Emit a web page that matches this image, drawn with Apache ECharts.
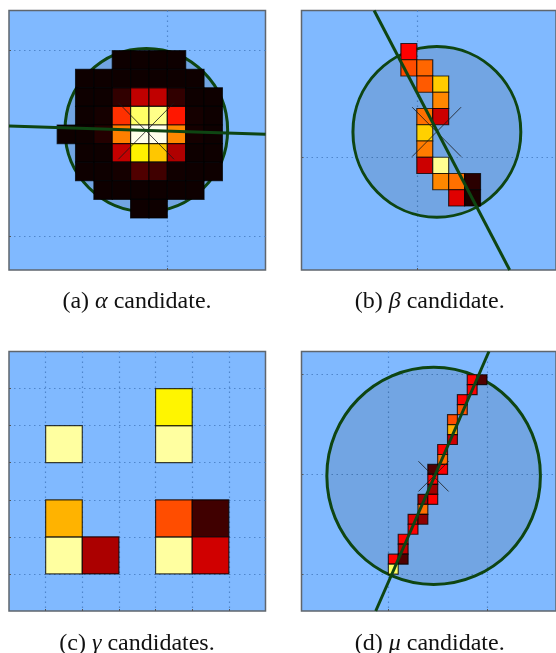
<!DOCTYPE html>
<html><head><meta charset="utf-8">
<style>html,body{margin:0;padding:0;background:#fff;overflow:hidden}#c{width:556px;height:653px;filter:blur(0.6px)}</style>
<script src="https://cdn.jsdelivr.net/npm/echarts@6/dist/echarts.min.js"></script>
</head><body><div id="c"></div>
<script>
// cell lists: [x, y, intensity] (lower-left corner in axis units; intensity on the "hot" colour scale)
const alphaRows = [
 [19, 7, [.02,.02,.02,.02]],
 [18, 5, [.02,.02,.02,.02,.02,.02,.02]],
 [17, 5, [.02,.02,.07,.275,.275,.07,.02,.02]],
 [16, 5, [.02,.03,.437,.848,.881,.4,.03,.02]],
 [15, 4, [.02,.02,.05,.555,.98,.98,.567,.03,.02]],
 [14, 5, [.02,.02,.28,.725,.663,.252,.02,.02]],
 [13, 5, [.02,.02,.03,.115,.092,.025,.02,.02]],
 [12, 6, [.02,.02,.02,.02,.02,.02]],
 [11, 8, [.02,.02]]
];
const alphaCells = alphaRows.flatMap(([y, x0, vals]) => vals.map((v, i) => [x0 + i, y, v]));
const betaCells = [
 [9,16,.365],[9,15,.48],[10,15,.517],[10,14,.5],[11,14,.67],[11,13,.567],
 [10,12,.533],[11,12,.292],[10,11,.676],[10,10,.55],[10,9,.292],[11,9,.89],
 [11,8,.567],[12,8,.533],[13,8,.06],[12,7,.32],[13,7,.037]
];
const gammaCells = [
 [1,1,.905],[1,2,.632],[2,1,.245],[1,4,.905],[4,4,.905],[4,5,.731],
 [4,1,.905],[4,2,.48],[5,2,.092],[5,1,.298]
];
const muCells = [
 [18,29,.365],[19,29,.115],[18,28,.365],[17,27,.365],[17,26,.49],[16,25,.48],[16,24,.632],[16,23,.298],
 [15,22,.365],[15,21,.533],[14,20,.115],[15,20,.365],[14,19,.365],[14,18,.229],[13,17,.229],[14,17,.365],
 [13,16,.533],[12,15,.32],[13,15,.206],[12,14,.365],[11,13,.365],[11,12,.275],[10,11,.365],[11,11,.115],[10,10,.842]
];
// fitted ellipses: [centre x, centre y, radius x, radius y]
const alphaEllipse = [8.856, 15.73, 4.43, 4.39];
const betaEllipse  = [11.26, 11.56, 5.27, 5.25];
const muEllipse    = [14.59, 19.85, 10.83, 10.89];
// long axes: two end points
const alphaAxis = [[1.373,15.95],[15.35,15.5]];
const betaAxis  = [[7.32,19.03],[15.83,3.06]];
const muAxis    = [[8.72,6.3],[20.2,32.33]];
// crosses: two segments
const alphaCross = [[[7.33,17.2],[10.365,14.155]],[[7.33,14.155],[10.365,17.2]]];
const betaCross  = [[[9.707,13.08],[12.78,10.04]],[[9.707,10.04],[12.78,13.08]]];
const muCross    = [[[13.05,21.32],[16.11,18.29]],[[13.05,18.29],[16.11,21.32]]];
// axis ranges and tick positions
const xRanges = [[1.373,15.35],[2.76,18.74],[0,7],[1.19,27.0]];
const yRanges = [[8.2,22.16],[3.06,19.03],[0,7],[6.3,32.33]];
const xTicks = [[10],[10],[1,2,3,4,5,6],[10,20]];
const yTicks = [[10,20],[10],[1,2,3,4,5,6],[10,20,30]];
// captions
const captionLetters = ['(a) ','(b) ','(c) ','(d) '];
const captionGreek = ['α','β','γ','μ'];
const captionTails = [' candidate.',' candidate.',' candidates.',' candidate.'];

const boxes = [
 {left:9, top:10.5, width:256.5, height:259.5},
 {left:301.5, top:10.5, width:256.5, height:259.5},
 {left:9, top:351.5, width:256.5, height:259.5},
 {left:301.5, top:351.5, width:256.5, height:259.5}
];
const captionPos = [[137,290],[429.7,290],[137,632],[429.7,632]];

const clamp = t => Math.max(0, Math.min(1, t));
function hot(v){
  const r = clamp(v/.365), g = clamp((v-.365)/.381), b = clamp((v-.746)/.254);
  return `rgb(${Math.round(r*255)},${Math.round(g*255)},${Math.round(b*255)})`;
}
const GREEN = '#0e4512';
function cellSeries(cells, i){
  return {type:'custom', xAxisIndex:i, yAxisIndex:i, z:4, silent:true, clip:true, data:cells,
    renderItem:(p,api)=>{
      const x=api.value(0), y=api.value(1);
      const a=api.coord([x,y+1]), b=api.coord([x+1,y]);
      return {type:'rect', shape:{x:a[0],y:a[1],width:b[0]-a[0],height:b[1]-a[1]},
        style:{fill:hot(api.value(2)), stroke:'rgba(0,0,0,0.75)', lineWidth:1.2}};
    }};
}
function ellipseSeries(e, i){
  return {type:'custom', xAxisIndex:i, yAxisIndex:i, z:3, silent:true, clip:true, data:[e],
    renderItem:(p,api)=>{
      const c=api.coord([api.value(0),api.value(1)]);
      const s=api.size([api.value(2),api.value(3)]);
      return {type:'ellipse', shape:{cx:c[0],cy:c[1],rx:s[0],ry:s[1]},
        style:{fill:'rgba(0,10,0,0.11)', stroke:GREEN, lineWidth:3}};
    }};
}
function lineSeries(pts, i, color, width, z){
  return {type:'line', xAxisIndex:i, yAxisIndex:i, z, silent:true, clip:true, data:pts,
    showSymbol:false, symbol:'none', animation:false, lineStyle:{color, width}};
}
const series = [];
[alphaCells,betaCells,gammaCells,muCells].forEach((cells,i)=>{
  const ell=[alphaEllipse,betaEllipse,null,muEllipse][i];
  const ax=[alphaAxis,betaAxis,null,muAxis][i];
  const cr=[alphaCross,betaCross,null,muCross][i];
  if(ell) series.push(ellipseSeries(ell,i));
  series.push(cellSeries(cells,i));
  if(cr) cr.forEach(seg=>series.push(lineSeries(seg,i,'rgba(25,25,25,0.8)',1,5)));
  if(ax) series.push(lineSeries(ax,i,GREEN,3,6));
});
function axis(range,ticks,gi,pos){
  return {type:'value', gridIndex:gi, min:range[0], max:range[1], position:pos, scale:true,
    axisLabel:{show:false},
    axisLine:{show:false},
    axisTick:{show:true, inside:true, length:2, customValues:ticks, lineStyle:{color:'#555',width:1}},
    splitLine:{show:true, lineStyle:{color:'#4f86cc', width:1.2, type:[1.5,3.5]}}};
}
const option = {
  animation:false,
  backgroundColor:'#fff',
  title: captionLetters.map((l,i)=>({
    text:`${l}{i|${captionGreek[i]}}${captionTails[i]}`,
    left:captionPos[i][0], top:captionPos[i][1], textAlign:'center',
    padding:0,
    textStyle:{fontFamily:'Liberation Serif', fontSize:24, fontWeight:'normal', color:'#111',
      rich:{i:{fontFamily:'Liberation Serif', fontSize:24, fontStyle:'italic', color:'#111'}}}
  })),
  grid: boxes.map(b=>({...b, show:true, backgroundColor:'#80b9ff', borderColor:'#5f666d', borderWidth:1.5, containLabel:false})),
  xAxis: xRanges.map((r,i)=>axis(r,xTicks[i],i,'bottom')),
  yAxis: yRanges.map((r,i)=>axis(r,yTicks[i],i,'left')),
  series
};
echarts.init(document.getElementById('c'),null,{renderer:'canvas'}).setOption(option);
</script></body></html>
